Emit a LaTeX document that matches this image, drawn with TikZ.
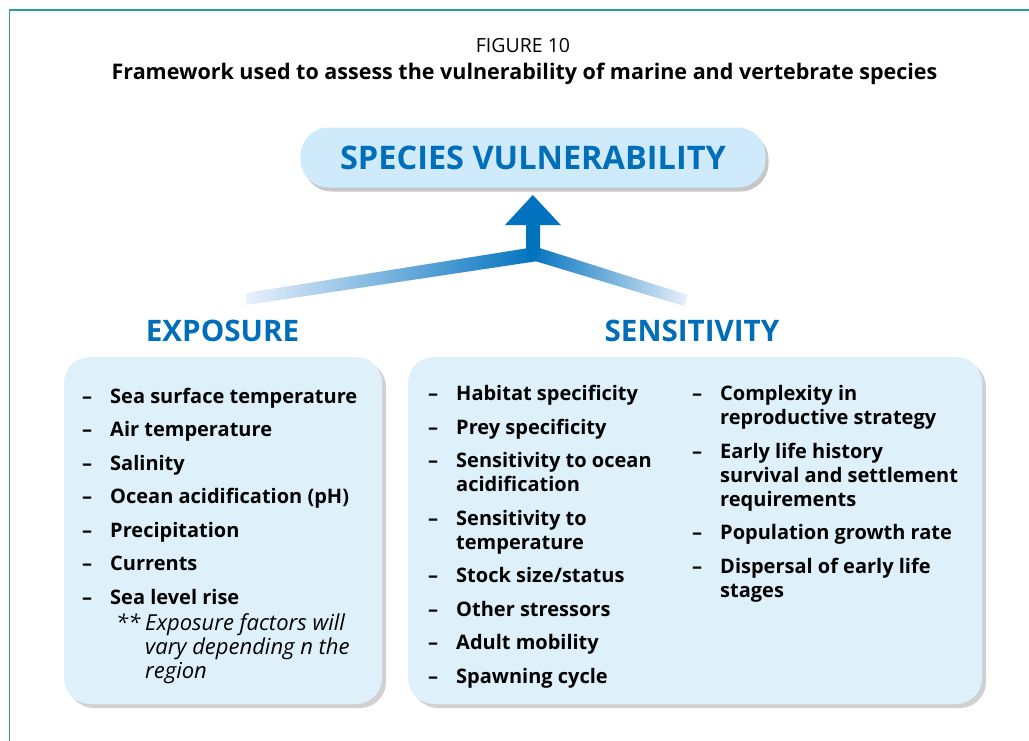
\documentclass[tikz,border=0pt]{standalone}
\usepackage{fontspec}
\setmainfont{Open Sans}
\usetikzlibrary{shadows}
\definecolor{frameteal}{RGB}{38,160,150}
\definecolor{hdrblue}{RGB}{0,110,185}
\definecolor{arrblue}{RGB}{0,114,190}
\definecolor{arrlight}{RGB}{232,240,251}
\definecolor{boxfill}{RGB}{222,241,251}
\definecolor{topfill}{RGB}{207,235,251}
\newcommand\itemfont{\fontsize{20}{24}\selectfont\bfseries}
\newcommand\dsh{\makebox[28pt][l]{–}}
\newcommand\lns[1]{\begin{tabular}[t]{@{}l@{}}#1\end{tabular}}
\tikzset{
  itm/.style={anchor=base west, inner sep=0pt, font=\itemfont, text=black},
  notetxt/.style={anchor=base west, inner sep=0pt, font=\fontsize{22}{24}\selectfont\itshape, text=black},
  hdr/.style={anchor=base, inner sep=0pt, font=\fontsize{29.6}{34}\selectfont\bfseries, text=hdrblue},
  listbox/.style={draw=none, fill=boxfill, rounded corners=26pt, inner sep=0pt,
    drop shadow={shadow xshift=4pt, shadow yshift=-4pt, fill=black, opacity=0.18}},
  topbox/.style={draw=none, fill=topfill, rounded corners=28pt, inner sep=0pt,
    drop shadow={shadow xshift=3pt, shadow yshift=-4pt, fill=black, opacity=0.22}},
}
\begin{document}
\begin{tikzpicture}[x=1pt,y=-1pt]
\useasboundingbox (0,0) rectangle (1029,740);
\fill[white] (0,0) rectangle (1029,740);
% frame
\draw[frameteal, line width=1.5pt] (9.5,760) -- (9.5,10) -- (1040,10);
% titles
\node[anchor=base, inner sep=0pt, font=\fontsize{19.5}{22}\selectfont] (fig) at (523,52) {FIGURE 10};
\node[anchor=base, inner sep=0pt, font=\fontsize{21.5}{24}\selectfont\bfseries] (ttl) at (524.5,79) {Framework used to assess the vulnerability of marine and vertebrate species};
% species box
\node[topbox, minimum width=465pt, minimum height=60pt, font=\fontsize{32.5}{36}\selectfont\bfseries, text=hdrblue] (spv) at (533,157.5) {SPECIES VULNERABILITY};
% arrow
\coordinate (lend) at (246,299);
\coordinate (rend) at (686,300);
\coordinate (apex) at (533,254);
\shade[left color=arrlight, right color=arrblue] (lend) ++(0,-6) -- (538,246.5) -- (538,261) -- (246,305) -- cycle;
\shade[left color=arrblue, right color=arrlight] (530,245) -- (688,295) -- (684,306) -- (530,259.5) -- cycle;
\fill[arrblue] (apex) ++(-7,2) -- (526,225) -- (505,225) -- (532.8,195) -- (560.8,225) -- (540,225) -- (540,256) -- cycle;
% headers
\node[hdr] (exph) at (222.5,341) {EXPOSURE};
\node[hdr] (senh) at (692,341) {SENSITIVITY};
% boxes
\node[listbox, minimum width=318pt, minimum height=347pt] (expbox) at (223,530.5) {};
\node[listbox, minimum width=574pt, minimum height=347pt] (senbox) at (695,530.5) {};
% exposure list
\node[itm] (e1) at (82,403) {\dsh Sea surface temperature};
\node[itm] (e2) at (82,436.5) {\dsh Air temperature};
\node[itm] (e3) at (82,470) {\dsh Salinity};
\node[itm] (e4) at (82,503.5) {\dsh Ocean acidification (pH)};
\node[itm] (e5) at (82,537) {\dsh Precipitation};
\node[itm] (e6) at (82,570.5) {\dsh Currents};
\node[itm] (e7) at (82,604) {\dsh Sea level rise};
\node[notetxt] (n0) at (116,630) {**};
\node[notetxt] (n1) at (145,630) {\lns{Exposure factors will\\vary depending n the\\region}};
% sensitivity column 1
\node[itm] (s1) at (428,400.5) {\dsh Habitat specificity};
\node[itm] (s2) at (428,434) {\dsh Prey specificity};
\node[itm] (s3) at (428,467.5) {\dsh\lns{Sensitivity to ocean\\acidification}};
\node[itm] (s4) at (428,525) {\dsh\lns{Sensitivity to\\temperature}};
\node[itm] (s5) at (428,582.5) {\dsh Stock size/status};
\node[itm] (s6) at (428,616) {\dsh Other stressors};
\node[itm] (s7) at (428,649.5) {\dsh Adult mobility};
\node[itm] (s8) at (428,683) {\dsh Spawning cycle};
% sensitivity column 2
\node[itm] (c1) at (692,400.5) {\dsh\lns{Complexity in\\reproductive strategy}};
\node[itm] (c2) at (692,458) {\dsh\lns{Early life history\\survival and settlement\\requirements}};
\node[itm] (c3) at (692,539.5) {\dsh Population growth rate};
\node[itm] (c4) at (692,573) {\dsh\lns{Dispersal of early life\\stages}};
\end{tikzpicture}
\end{document}
